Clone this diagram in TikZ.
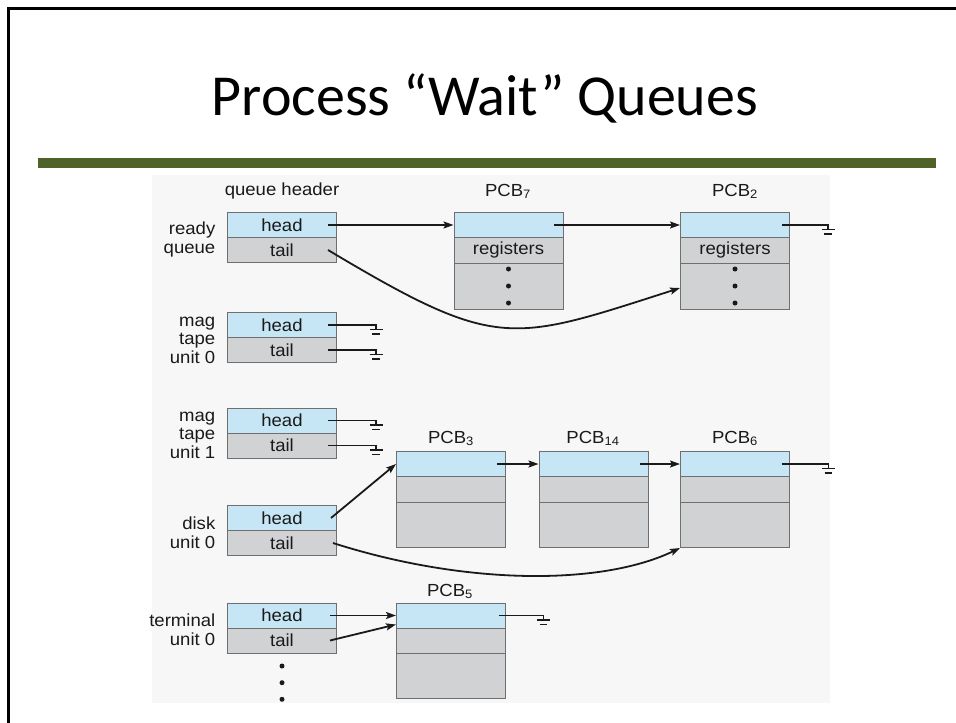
\documentclass[tikz,border=0pt]{standalone}
\usepackage{fontspec}
\setmainfont{Liberation Sans}
\newfontfamily\titlefont{Carlito}
\newfontfamily\diagfont[FakeStretch=1.06]{Liberation Sans}
\usetikzlibrary{arrows.meta,calc}
\definecolor{cellblue}{HTML}{C6E6F6}
\definecolor{cellgray}{HTML}{D1D2D4}
\definecolor{cellline}{HTML}{6F6F6F}
\definecolor{barolive}{HTML}{4F6228}
\definecolor{diagbg}{HTML}{F7F7F7}
\definecolor{inkc}{HTML}{1A1A1A}
\begin{document}
\begin{tikzpicture}[x=1pt,y=-1pt,
  dfont/.style={font=\diagfont\fontsize{17.5}{18.5}\selectfont, text=inkc},
  cell/.style={dfont, draw=cellline, line width=1pt, minimum width=109pt,
               minimum height=25pt, inner sep=0pt, anchor=north west},
  bcell/.style={cell, fill=cellblue},
  gcell/.style={cell, fill=cellgray},
  lbl/.style={dfont, align=right, anchor=east, inner sep=0pt},
  captxt/.style={dfont, anchor=base, inner sep=0pt},
  arr/.style={draw=inkc, line width=1.8pt, -{Stealth[length=10pt,width=7pt,inset=2pt]}},
  wire/.style={draw=inkc, line width=1.8pt},
  gnd/.pic={\draw[inkc, line width=1.8pt] (0,-0.9) -- (0,4.5) (-6.5,4.5) -- (6.5,4.5) (-3.8,9) -- (3.8,9);}
]
\useasboundingbox (0,0) rectangle (956,723);
\fill[white] (0,0) rectangle (956,723);
\draw[line width=2.7pt, black] (8.7,723) -- (8.7,8.7) -- (956,8.7);
\node[font=\titlefont\fontsize{58}{62}\selectfont, anchor=base, inner sep=0pt] (title) at (485,115) {Process “Wait” Queues};
\fill[barolive] (38,158.3) rectangle (936,168.3);
\fill[diagbg] (152,175) rectangle (830,703);

% captions
\node[captxt] (qhdr) at (282,195) {queue header};
\node[captxt] (c7) at (508,196) {PCB\textsubscript{7}};
\node[captxt] (c2) at (735,196) {PCB\textsubscript{2}};
\node[captxt] (c3) at (451,443.3) {PCB\textsubscript{3}};
\node[captxt] (c14) at (593,443.3) {PCB\textsubscript{14}};
\node[captxt] (c6) at (735,443.3) {PCB\textsubscript{6}};
\node[captxt] (c5) at (450,596) {PCB\textsubscript{5}};

% queue labels
\node[lbl] (lrq) at (215.5,239.5) {ready\\queue};
\node[lbl] (lm0) at (215.5,340) {mag\\tape\\unit 0};
\node[lbl] (lm1) at (215.5,435) {mag\\tape\\unit 1};
\node[lbl] (ld0) at (215.5,532.5) {disk\\unit 0};
\node[lbl] (lt0) at (215.5,629.5) {terminal\\unit 0};

% queue headers
\node[bcell] (rqh) at (227,212) {head};
\node[gcell] (rqt) at (227,237) {tail};
\node[bcell] (m0h) at (227,312) {head};
\node[gcell] (m0t) at (227,337) {tail};
\node[bcell] (m1h) at (227,407.5) {head};
\node[gcell] (m1t) at (227,432.5) {tail};
\node[bcell] (dh) at (227,505) {head};
\node[gcell] (dt) at (227,530) {tail};
\node[bcell] (th) at (227,602.5) {head};
\node[gcell] (tt) at (227,627.5) {tail};

% PCBs
\node[bcell] (p7a) at (453.5,212) {};
\node[gcell, minimum height=25.5pt] (p7b) at (453.5,237) {registers};
\node[gcell, minimum height=46pt] (p7c) at (453.5,262.5) {};
\node[bcell] (p2a) at (680,212) {};
\node[gcell, minimum height=25.5pt] (p2b) at (680,237) {registers};
\node[gcell, minimum height=46pt] (p2c) at (680,262.5) {};

\node[bcell] (p3a) at (396,451) {};
\node[gcell, minimum height=26pt] (p3b) at (396,476) {};
\node[gcell, minimum height=45pt] (p3c) at (396,502) {};
\node[bcell] (p14a) at (538.5,451) {};
\node[gcell, minimum height=26pt] (p14b) at (538.5,476) {};
\node[gcell, minimum height=45pt] (p14c) at (538.5,502) {};
\node[bcell] (p6a) at (680,451) {};
\node[gcell, minimum height=26pt] (p6b) at (680,476) {};
\node[gcell, minimum height=45pt] (p6c) at (680,502) {};

\node[bcell] (p5a) at (396,602.5) {};
\node[gcell, minimum height=25.5pt] (p5b) at (396,627.5) {};
\node[gcell, minimum height=45pt] (p5c) at (396,653) {};

% dots
\foreach \d in {-17,0,17} {
  \fill[inkc] ($(p7c.center)+(0,\d)$) circle (2.5);
  \fill[inkc] ($(p2c.center)+(0,\d)$) circle (2.5);
}
\foreach \d in {12.5,29.2,45.8}
  \fill[inkc] ($(tt.south)+(0,\d)$) circle (2.5);

% connectors
\draw[arr] ([xshift=-9pt]rqh.east) -- (p7a.west);
\draw[arr] ([xshift=-9.5pt]p7a.east) -- (p2a.west);
\draw[arr] ([xshift=-9pt]rqt.east) .. controls +(170,101.5) and +(-170,54.4) .. ([yshift=-2pt]p2c.west);

\draw[arr] ([xshift=-6pt]dh.east) -- (p3a.west);
\draw[arr] ([xshift=-9pt]p3a.east) -- (p14a.west);
\draw[arr] ([xshift=-8.5pt]p14a.east) -- (p6a.west);
\draw[arr] ([xshift=-4pt]dt.east) .. controls +(130,41.6) and +(-80,38.4) .. (p6c.south west);

\draw[arr] ([xshift=-7pt]th.east) -- (p5a.west);
\draw[arr] ([xshift=-7pt]tt.east) -- ([yshift=-9pt]p5a.west);

% null pointers (ground)
\draw[wire] ([xshift=-8pt]p2a.east) -- ++(46,0) coordinate (g2);
\draw[wire] ([xshift=-9pt]m0h.east) -- ++(48,0) coordinate (gm0h);
\draw[wire] ([xshift=-9pt]m0t.east) -- ++(48,0) coordinate (gm0t);
\draw[wire] ([xshift=-9pt]m1h.east) -- ++(48,0) coordinate (gm1h);
\draw[wire] ([xshift=-9pt]m1t.east) -- ++(48,0) coordinate (gm1t);
\draw[wire] ([xshift=-8.5pt]p6a.east) -- ++(47,0) coordinate (g6);
\draw[wire] ([xshift=-7.5pt]p5a.east) -- ++(45,0) coordinate (g5);
\foreach \g in {g2,gm0h,gm0t,gm1h,gm1t,g6,g5}
  \pic at (\g) {gnd};
\end{tikzpicture}
\end{document}
